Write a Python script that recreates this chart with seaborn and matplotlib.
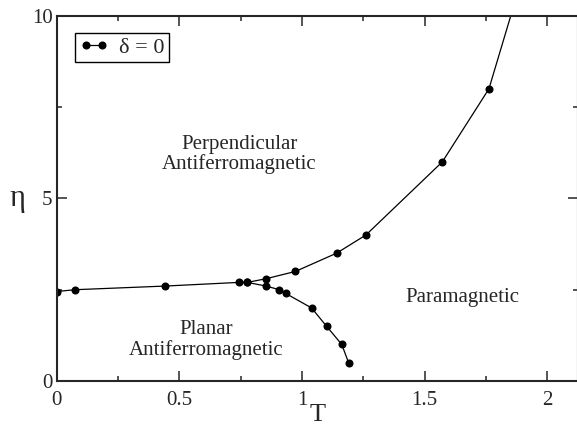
"""
Phase diagram eta vs T (delta = 0), seaborn version.
"""

import matplotlib
matplotlib.use("Agg")
import matplotlib.pyplot as plt
import pandas as pd
import seaborn as sns
from matplotlib.ticker import MultipleLocator

# ----------------------------
# Data
# ----------------------------
# common low-T line + perpendicular / paramagnetic boundary
upper_T = [0.0, 0.075, 0.443, 0.743, 0.777, 0.853, 0.973, 1.141, 1.261, 1.572, 1.762, 1.94]
upper_eta = [2.45, 2.5, 2.6, 2.7, 2.7, 2.8, 3.0, 3.5, 4.0, 6.0, 8.0, 12.0]

# planar / paramagnetic boundary
lower_T = [0.777, 0.853, 0.908, 0.933, 1.039, 1.10, 1.162, 1.19]
lower_eta = [2.7, 2.6, 2.5, 2.4, 2.0, 1.5, 1.0, 0.5]

region_labels = ["Perpendicular\nAntiferromagnetic", "Paramagnetic", "Planar\nAntiferromagnetic"]
region_T = [0.745, 1.653, 0.61]
region_eta = [6.2, 2.3, 1.12]

upper = pd.DataFrame({"T": upper_T, "eta": upper_eta})
lower = pd.DataFrame({"T": lower_T, "eta": lower_eta})

# ----------------------------
# Style
# ----------------------------
sns.set_style("ticks")
plt.rcParams["font.family"] = ["Liberation Serif", "DejaVu Serif"]

fig = plt.figure(figsize=(5.77, 4.26), dpi=100)
ax = fig.add_axes([0.0983, 0.1056, 1.0017 - 0.0983, 0.963 - 0.1056])

line_kw = dict(color="black", marker="o", markersize=5.8, linewidth=0.9,
               markeredgewidth=0, ax=ax)
sns.lineplot(data=upper, x="T", y="eta", label="δ = 0", **line_kw)
sns.lineplot(data=lower, x="T", y="eta", **line_kw)

for txt, tx, ty in zip(region_labels, region_T, region_eta):
    ax.text(tx, ty, txt, ha="center", va="center", fontsize=15,
            linespacing=1.05)

# ----------------------------
# Axes
# ----------------------------
ax.set_xlim(0, 2.125)
ax.set_ylim(0, 10)
ax.xaxis.set_minor_locator(MultipleLocator(0.25))
ax.yaxis.set_minor_locator(MultipleLocator(2.5))
ax.set_xticks([0, 0.5, 1, 1.5, 2])
ax.set_xticklabels(["0", "0.5", "1", "1.5", "2"])
ax.set_yticks([0, 5, 10])
ax.set_yticklabels(["0", "5", "10"])

ax.tick_params(which="both", direction="in", top=True, right=True,
               width=1.1, labelsize=15)
ax.tick_params(which="major", length=7)
ax.tick_params(which="minor", length=3.6)
ax.tick_params(axis="x", pad=7)
ax.tick_params(axis="y", pad=3)
for side in ax.spines.values():
    side.set_linewidth(1.5)
    side.set_visible(True)

ax.set_xlabel("T", fontsize=19, labelpad=-4)
ax.set_ylabel("η", fontsize=22, rotation=0, labelpad=10, va="center")

leg = ax.legend(loc="upper left", bbox_to_anchor=(0.035, 0.953),
                borderaxespad=0, fontsize=16, numpoints=2, handlelength=1.3,
                handletextpad=0.5, borderpad=0.2, fancybox=False,
                framealpha=1)
leg.get_frame().set_edgecolor("black")
leg.get_frame().set_linewidth(1.0)

fig.savefig("out.png", dpi=100)
